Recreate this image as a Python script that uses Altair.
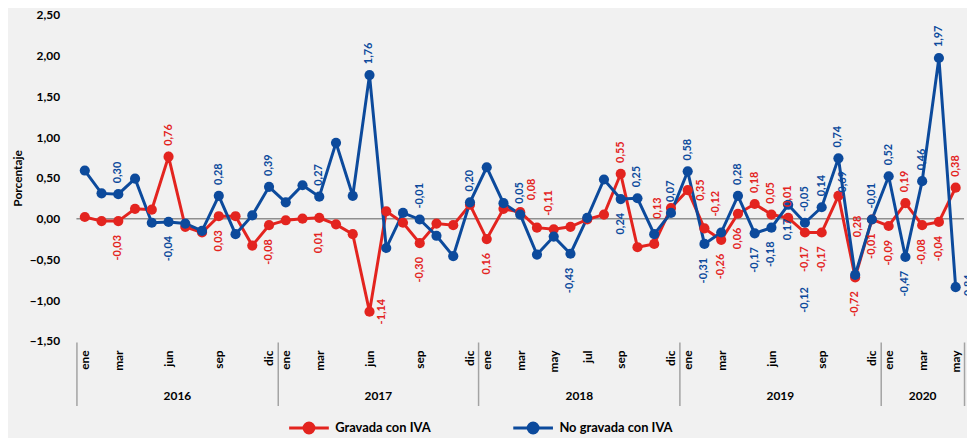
import altair as alt
import pandas as pd

# ---------------- data ----------------
month_names = ["ene", "feb", "mar", "abr", "may", "jun", "jul", "ago", "sep", "oct", "nov", "dic"]
years = [2016, 2017, 2018, 2019, 2020]
months_per_year = [12, 12, 12, 12, 5]
shown_month_ticks = [0, 2, 5, 8, 11,
                     12, 14, 17, 20, 23,
                     24, 26, 28, 30, 32, 35,
                     36, 38, 41, 44, 47,
                     48, 50, 52]

series_names = ["Gravada con IVA", "No gravada con IVA"]
series_colors = ["#e3241f", "#0c4a9c"]

gravada = [0.02, -0.03, -0.03, 0.12, 0.11, 0.76, -0.10, -0.17, 0.03, 0.03, -0.33, -0.08,
           -0.02, 0.00, 0.01, -0.07, -0.19, -1.14, 0.09, -0.05, -0.30, -0.06, -0.08, 0.17,
           -0.25, 0.12, 0.08, -0.11, -0.13, -0.10, -0.01, 0.05, 0.55, -0.35, -0.31, 0.13,
           0.35, -0.12, -0.26, 0.06, 0.18, 0.05, 0.01, -0.17, -0.17, 0.28, -0.72, -0.01,
           -0.09, 0.19, -0.08, -0.04, 0.38]

no_gravada = [0.59, 0.31, 0.30, 0.49, -0.05, -0.04, -0.06, -0.15, 0.28, -0.19, 0.04, 0.39,
              0.20, 0.41, 0.27, 0.93, 0.28, 1.76, -0.36, 0.07, -0.01, -0.21, -0.46, 0.20,
              0.63, 0.19, 0.05, -0.44, -0.22, -0.43, 0.01, 0.48, 0.24, 0.25, -0.19, 0.07,
              0.58, -0.31, -0.17, 0.28, -0.18, -0.11, 0.17, -0.05, 0.14, 0.74, -0.69, -0.01,
              0.52, -0.47, 0.46, 1.97, -0.84]

# data labels: (month index, text, placement)
gravada_labels = [
    (2, "-0,03", "below"), (5, "0,76", "above"), (8, "0,03", "below"), (11, "-0,08", "below"),
    (14, "0,01", "below"), (17, "-1,14", "right"), (20, "-0,30", "below"), (24, "0,16", "below"),
    (26, "0,08", "above_right"), (27, "-0,11", "above_right"), (32, "0,55", "above"), (35, "0,13", "left"),
    (36, "0,35", "right"), (37, "-0,12", "above_right"), (38, "-0,26", "below"), (39, "0,06", "below"),
    (40, "0,18", "above"), (41, "0,05", "above"), (42, "0,01", "above"), (43, "-0,17", "below"),
    (44, "-0,17", "below"), (45, "0,28", "below_right"), (46, "-0,72", "below"), (47, "-0,01", "below"),
    (48, "-0,09", "below"), (49, "0,19", "above"), (50, "-0,08", "below"), (51, "-0,04", "below"),
    (52, "0,38", "above"),
]
no_gravada_labels = [
    (2, "0,30", "above"), (5, "-0,04", "below"), (8, "0,28", "above"), (11, "0,39", "above"),
    (14, "0,27", "above"), (17, "1,76", "above"), (20, "-0,01", "above"), (23, "0,20", "above"),
    (26, "0,05", "above"), (29, "-0,43", "below"), (32, "0,24", "below"), (33, "0,25", "above"),
    (35, "0,07", "above"), (36, "0,58", "above"), (37, "-0,31", "below"), (39, "0,28", "above"),
    (40, "-0,17", "below"), (41, "-0,18", "below"), (42, "0,17", "below"), (43, "-0,05", "above"),
    (43, "-0,12", "below_far"), (44, "0,14", "above"), (45, "0,74", "above"), (46, "-0,69", "above_far"),
    (47, "-0,01", "above"), (48, "0,52", "above"), (49, "-0,47", "below"), (50, "0,46", "above"),
    (51, "1,97", "above"), (52, "-0,84", "right"),
]

y_ticks = [-1.5, -1.0, -0.5, 0.0, 0.5, 1.0, 1.5, 2.0, 2.5]

# ---------------- tables ----------------
rows = []
for name, vals in zip(series_names, [gravada, no_gravada]):
    for i, v in enumerate(vals):
        rows.append({"idx": i, "value": v, "series": name})
df = pd.DataFrame(rows)

lab_rows = []
for name, vals, labs in zip(series_names, [gravada, no_gravada], [gravada_labels, no_gravada_labels]):
    for m, txt, side in labs:
        lab_rows.append({"idx": m, "value": vals[m], "series": name, "text": txt, "side": side})
labels_df = pd.DataFrame(lab_rows)

zero_df = pd.DataFrame({"value": [0.0]})

# year boundaries / centres derived from month counts
bounds = [-0.5]
for n in months_per_year:
    bounds.append(bounds[-1] + n)
year_centres = [(a + b) / 2 for a, b in zip(bounds[:-1], bounds[1:])]

FONT = "Lato"
RED, BLUE = series_colors

xscale = alt.Scale(domain=[bounds[0], bounds[-1]], nice=False, zero=False)
yscale = alt.Scale(domain=[y_ticks[0], y_ticks[-1]], nice=False, zero=False)

y_enc = alt.Y(
    "value:Q", scale=yscale,
    axis=alt.Axis(values=y_ticks, labelExpr="replace(format(datum.value, '.2f'), '.', ',')",
                  title="Porcentaje", titleFontSize=12, titleFontWeight="bold", titleColor="black",
                  titleFont=FONT, titlePadding=5, labelFontSize=12, labelFontWeight="bold",
                  labelColor="black", labelFont=FONT, labelPadding=17, domain=False, ticks=False,
                  grid=False),
)

month_js = "[" + ",".join(f"'{m}'" for m in month_names) + "]"
month_axis = alt.Axis(orient="bottom", values=shown_month_ticks,
                      labelExpr=f"{month_js}[datum.value % 12]", labelAngle=270,
                      labelFontSize=12, labelFontWeight="bold", labelColor="black", labelFont=FONT,
                      labelPadding=9, labelOverlap=False, labelFlush=False, ticks=False,
                      domain=False, grid=False, title=None)

year_js = "{" + ",".join(f"'{c:g}':'{y}'" for c, y in zip(year_centres, years)) + "}"
year_axis = alt.Axis(orient="bottom", values=year_centres,
                     labelExpr=f"{year_js}[toString(datum.value)]", labelAngle=0,
                     labelFontSize=12, labelFontWeight="bold", labelColor="black", labelFont=FONT,
                     labelPadding=50, labelOverlap=False, labelFlush=False, labelBaseline="top",
                     ticks=False, domain=False, grid=False, title=None)

sep_axis = alt.Axis(orient="bottom", values=bounds, labels=False, ticks=True, tickSize=64,
                    tickWidth=1.5, tickColor="#a3a3a3", domain=False, grid=False, title=None,
                    offset=1)

cscale = alt.Scale(domain=series_names, range=series_colors)
legend = alt.Legend(orient="none", legendX=213, legendY=395, direction="horizontal", title=None,
                    symbolType="M-1,0L1,0M0.25,0A0.25,0.25,0,1,1,-0.25,0A0.25,0.25,0,1,1,0.25,0Z",
                    symbolSize=1600, symbolStrokeWidth=3, labelFontSize=13, labelFontWeight="bold",
                    labelColor="black", labelFont=FONT, labelOffset=5, columnPadding=76, padding=0)

zero = alt.Chart(zero_df).mark_rule(color="#8f8f8f", strokeWidth=1.5).encode(y=y_enc)

lines = alt.Chart(df).mark_line(strokeWidth=3).encode(
    x=alt.X("idx:Q", scale=xscale, axis=month_axis),
    y=y_enc,
    color=alt.Color("series:N", scale=cscale, legend=legend),
)

points = alt.Chart(df).mark_circle(size=105, opacity=1).encode(
    x=alt.X("idx:Q", scale=xscale, axis=sep_axis),
    y=y_enc,
    color=alt.Color("series:N", scale=cscale, legend=legend),
)

# text is rotated 270 deg; Vega applies dx/dy in the rotated frame:
# +dx -> screen up, +dy -> screen right
side_styles = {
    "above": dict(align="left", dx=11, dy=0),
    "below": dict(align="right", dx=-14, dy=0),
    "right": dict(align="center", dx=0, dy=13),
    "left": dict(align="center", dx=0, dy=-13),
    "above_right": dict(align="left", dx=12, dy=12),
    "below_right": dict(align="right", dx=-20, dy=20),
    "above_far": dict(align="left", dx=79, dy=-12),
    "below_far": dict(align="right", dx=-65, dy=0),
}

text_layers = []
for k, (side, st) in enumerate(side_styles.items()):
    ax = year_axis if k == 0 else None
    t = alt.Chart(labels_df).transform_filter(alt.datum.side == side).mark_text(
        angle=270, baseline="middle", fontSize=11, fontWeight="bold", font=FONT, **st
    ).encode(
        x=alt.X("idx:Q", scale=xscale, axis=ax),
        y=y_enc,
        text="text:N",
        color=alt.condition(alt.datum.series == series_names[0], alt.value(RED), alt.value(BLUE)),
    )
    text_layers.append(t)

chart = alt.layer(zero, lines, points, *text_layers).resolve_axis(x="independent").properties(
    width=895, height=329,
    background="#f1f1f1",
    padding={"left": 69, "top": 5, "right": 3, "bottom": 96},
    autosize=alt.AutoSizeParams(type="none"),
).configure_view(stroke=None)

chart.save("out.html", embed_options={"renderer": "svg", "actions": False})
